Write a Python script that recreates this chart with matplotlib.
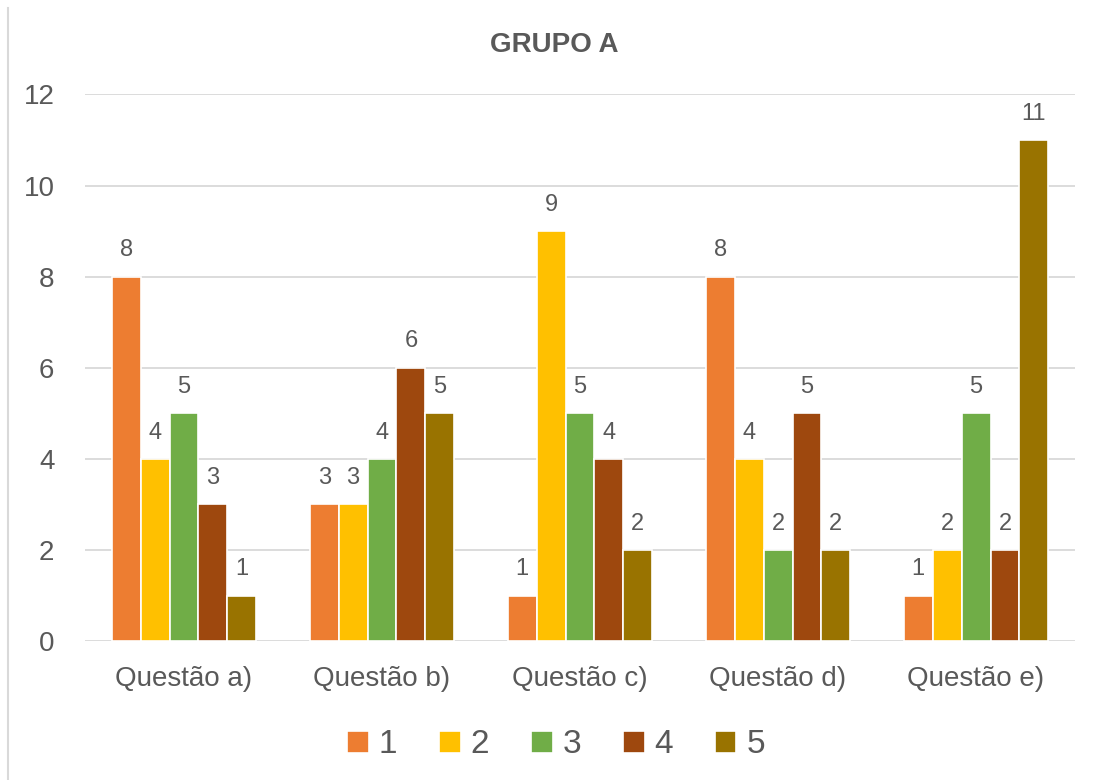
import numpy as np
import matplotlib.pyplot as plt
from matplotlib.lines import Line2D

# dados
categorias = ['Questão a)', 'Questão b)', 'Questão c)', 'Questão d)', 'Questão e)']
series = ['1', '2', '3', '4', '5']
valores_1 = [8, 3, 1, 8, 1]
valores_2 = [4, 3, 9, 4, 2]
valores_3 = [5, 4, 5, 2, 5]
valores_4 = [3, 6, 4, 5, 2]
valores_5 = [1, 5, 2, 2, 11]
cores = ['#ED7D31', '#FFC000', '#70AD47', '#9E480E', '#997300']

plt.rcParams['font.family'] = ['Liberation Sans', 'DejaVu Sans']
cinza = '#595959'

fig = plt.figure(figsize=(10.97, 7.8), dpi=100)
ax = fig.add_axes([0.0775, 0.178, 0.9025, 0.701])

x = np.arange(len(categorias))
largura = 0.146
todos = [valores_1, valores_2, valores_3, valores_4, valores_5]
for i, (vals, cor, nome) in enumerate(zip(todos, cores, series)):
    pos = x + (i - 2) * largura
    barras = ax.bar(pos, vals, largura, color=cor, edgecolor='white', linewidth=1.2,
                    label=nome, zorder=3)
    ax.bar_label(barras, padding=11, fontsize=17, color=cinza)

ax.set_xlim(-0.5, len(categorias) - 0.5)
ax.set_ylim(0, 12)
ax.set_yticks(range(0, 13, 2))
ax.set_xticks(x)
ax.set_xticklabels(categorias, fontsize=20, color=cinza)
ax.tick_params(axis='y', labelsize=20, labelcolor=cinza, length=0, pad=22)
ax.tick_params(axis='x', length=0, pad=18)
ax.grid(axis='y', color='#D9D9D9', linewidth=1.3, zorder=0)
for s in ax.spines.values():
    s.set_visible(False)

fig.text(0.505, 0.942, 'GRUPO A', ha='center', va='center', fontsize=20,
         fontweight='bold', color=cinza)

leg = fig.legend(loc='center', bbox_to_anchor=(0.507, 0.045), ncol=5, frameon=False,
                 fontsize=24, handlelength=0.65, handleheight=0.65, handletextpad=0.3,
                 columnspacing=1.25, labelcolor=cinza)

# linha da borda esquerda
fig.add_artist(Line2D([0.0075, 0.0075], [0.0, 0.99], color='#D9D9D9', linewidth=1.5))

fig.savefig('out.png', dpi=100, facecolor='white')
